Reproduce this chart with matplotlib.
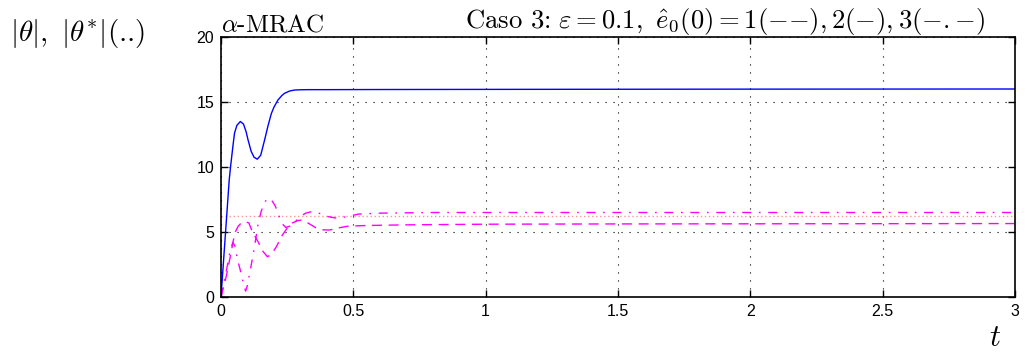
import numpy as np
import matplotlib.pyplot as plt

plt.rcParams["mathtext.fontset"] = "cm"
plt.rcParams["font.family"] = ["Liberation Sans", "DejaVu Sans"]

# |theta| for e0(0)=2 (solid)
t_case2 = [0, 0.01, 0.02, 0.031, 0.036, 0.045, 0.051, 0.06, 0.073, 0.085, 0.095,
           0.102, 0.114, 0.125, 0.137, 0.15, 0.165, 0.178, 0.19, 0.2, 0.215, 0.23,
           0.24, 0.26, 0.278, 0.3, 0.33, 0.4, 0.6, 1.0, 2.0, 3.0]
theta_case2 = [0, 2.9, 5.8, 9.0, 10.0, 11.6, 12.6, 13.2, 13.5, 13.3, 12.7,
               12.1, 11.2, 10.75, 10.6, 10.9, 12.1, 13.2, 14.1, 14.6, 15.15, 15.5,
               15.67, 15.85, 15.92, 15.94, 15.95, 15.95, 15.96, 15.97, 15.99, 16.0]

# |theta| for e0(0)=1 (dashed)
t_case1 = [0, 0.02, 0.038, 0.046, 0.054, 0.065, 0.077, 0.09, 0.105, 0.12, 0.14,
           0.159, 0.175, 0.19, 0.21, 0.23, 0.25, 0.27, 0.29, 0.305, 0.32, 0.34,
           0.36, 0.38, 0.41, 0.44, 0.48, 0.55, 0.7, 1.0, 1.5, 2.0, 3.0]
theta_case1 = [0, 1.6, 3.4, 4.3, 5.0, 5.45, 5.7, 5.8, 5.7, 4.95, 4.25,
               3.5, 3.1, 3.25, 3.9, 4.7, 5.3, 5.7, 5.88, 5.92, 5.8, 5.55,
               5.3, 5.17, 5.15, 5.3, 5.45, 5.5, 5.55, 5.6, 5.62, 5.63, 5.65]

# |theta| for e0(0)=3 (dash-dot)
t_case3 = [0, 0.02, 0.035, 0.045, 0.053, 0.062, 0.075, 0.085, 0.093, 0.1, 0.108,
           0.121, 0.13, 0.14, 0.152, 0.165, 0.178, 0.19, 0.205, 0.22, 0.235,
           0.245, 0.26, 0.28, 0.3, 0.32, 0.345, 0.37, 0.4, 0.44, 0.48, 0.52,
           0.6, 0.8, 1.0, 3.0]
theta_case3 = [0, 2.0, 3.6, 4.2, 3.9, 2.9, 1.9, 1.0, 0.45, 0.9, 1.8,
               3.2, 4.3, 5.6, 6.6, 7.3, 7.6, 7.5, 7.0, 6.2, 5.55,
               5.35, 5.45, 5.8, 6.2, 6.45, 6.58, 6.45, 6.2, 6.05, 6.2, 6.38,
               6.45, 6.5, 6.5, 6.5]

# |theta*|
t_star = [0, 3]
theta_star = [6.25, 6.25]

xticks = [0, 0.5, 1, 1.5, 2, 2.5, 3]
yticks = [0, 5, 10, 15, 20]

fig = plt.figure(figsize=(10.26, 3.53), dpi=100)
ax = fig.add_axes([221 / 1026, 1 - 297 / 353, 794 / 1026, 260 / 353])

ax.plot(t_star, theta_star, color="#f39a9a", lw=1.0, ls=(0, (1, 1.9)))
ax.plot(t_case1, theta_case1, color="#ff00ff", lw=1.0, ls=(0, (7.2, 4.8)))
ax.plot(t_case3, theta_case3, color="#ff00ff", lw=1.0,
        ls=(0, (6.5, 5.5, 1.2, 5.5)))
ax.plot(t_case2, theta_case2, color="#0000ff", lw=1.0)

ax.set_xlim(0, 3)
ax.set_ylim(0, 20)
ax.set_xticks(xticks)
ax.set_xticklabels(["0", "0.5", "1", "1.5", "2", "2.5", "3"])
ax.set_yticks(yticks)
ax.grid(True, color="black", ls=(0, (1, 6.2)), lw=0.8)
ax.tick_params(direction="in", length=5, width=1, top=True, right=True,
               labelsize=11.5, pad=5)
for s in ax.spines.values():
    s.set_linewidth(1.2)

ax.text(0, 1.0, r"$\alpha\text{-MRAC}$", transform=ax.transAxes,
        ha="left", va="bottom", fontsize=18)
ax.text(0.962, 1.0,
        r"$\text{Caso 3:}\ \varepsilon=0.1,\ \hat{e}_0(0)=1({-}{-}),2({-}),3({-}.{-})$",
        transform=ax.transAxes, ha="right", va="bottom", fontsize=19.2)

fig.text(10 / 1026, 1 - 17 / 353, r"$|\theta|,\ |\theta^{*}|\text{(..)}$",
         ha="left", va="top", fontsize=21)
fig.text(995 / 1026, 1 - 338 / 353, r"$t$", ha="center", va="center",
         fontsize=22)

fig.savefig("out.png", dpi=100)
